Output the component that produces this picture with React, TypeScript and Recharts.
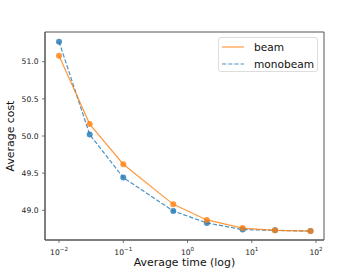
import React from 'react';
import { LineChart, Line, XAxis, YAxis, ReferenceArea } from 'recharts';

const times = [0.01, 0.03, 0.1, 0.6, 2, 7.2, 23, 82];
const beamCost = [51.08, 50.16, 49.62, 49.08, 48.87, 48.76, 48.73, 48.72];
const monobeamCost = [51.27, 50.02, 49.44, 48.99, 48.83, 48.74, 48.73, 48.72];
const xMajorTicks = [0.01, 0.1, 1, 10, 100];
const xTickExponents = ['\u22122', '\u22121', '0', '1', '2'];
const xMinorTicks = [
  0.007, 0.008, 0.009,
  0.02, 0.03, 0.04, 0.05, 0.06, 0.07, 0.08, 0.09,
  0.2, 0.3, 0.4, 0.5, 0.6, 0.7, 0.8, 0.9,
  2, 3, 4, 5, 6, 7, 8, 9,
  20, 30, 40, 50, 60, 70, 80, 90,
];
const yTicks = [49.0, 49.5, 50.0, 50.5, 51.0];
const xDomain = [0.00605, 133];
const yDomain = [48.6, 51.4];
const seriesNames = ['beam', 'monobeam'];

const data = times.map((t, i) => ({ t, beam: beamCost[i], monobeam: monobeamCost[i] }));

const ORANGE = '#ff7f0e';
const BLUE = '#1f77b4';
const FONT = 'DejaVu Sans';
const AXIS = '#555';

const XTick = (props: any) => {
  const { x, y, payload } = props;
  const idx = xMajorTicks.indexOf(payload.value);
  return (
    <text x={x} y={y + 9.5} textAnchor="middle" fontFamily={FONT} fontSize={7.6} fill="#222">
      10
      <tspan dy={-3.5} fontSize={5.6}>{xTickExponents[idx]}</tspan>
    </text>
  );
};

const LegendBox = () => (
  <div
    style={{
      position: 'absolute',
      left: 218,
      top: 37,
      width: 100,
      height: 35,
      border: '1px solid #ddd',
      borderRadius: 3,
      background: 'rgba(255,255,255,0.8)',
      fontFamily: FONT,
      fontSize: 10.6,
      color: '#111',
      boxSizing: 'border-box',
    }}
  >
    {[
      { name: seriesNames[0], color: ORANGE, dash: undefined as string | undefined, top: 8.5 },
      { name: seriesNames[1], color: BLUE, dash: '4.3 1.9', top: 25.5 },
    ].map((it) => (
      <div key={it.name} style={{ position: 'absolute', left: 2, top: it.top - 7, height: 14, display: 'flex', alignItems: 'center' }}>
        <svg width={24} height={14}>
          <line x1={1} x2={23} y1={7} y2={7} stroke={it.color} strokeWidth={1.2} strokeOpacity={0.8} strokeDasharray={it.dash} />
        </svg>
        <span style={{ marginLeft: 9, lineHeight: '14px' }}>{it.name}</span>
      </div>
    ))}
  </div>
);

export default function App() {
  return (
    <div style={{ position: 'absolute', left: 0, top: 0, width: 360, height: 270, background: '#fff' }}>
      <LineChart width={360} height={270} data={data} margin={{ top: 32, right: 36, bottom: 0, left: 0 }}>
        <XAxis
          xAxisId="minor"
          dataKey="t"
          type="number"
          scale="log"
          domain={xDomain}
          ticks={xMinorTicks}
          allowDataOverflow
          height={0}
          axisLine={false}
          tick={false}
          tickSize={1.6}
          tickLine={{ stroke: AXIS, strokeWidth: 0.6 }}
          interval={0}
        />
        <XAxis
          dataKey="t"
          type="number"
          scale="log"
          domain={xDomain}
          ticks={xMajorTicks}
          allowDataOverflow
          height={30}
          axisLine={{ stroke: AXIS, strokeWidth: 1 }}
          tickLine={{ stroke: AXIS, strokeWidth: 0.8 }}
          tickSize={3}
          tick={<XTick />}
          interval={0}
          label={{
            content: ({ viewBox }: any) => (
              <text x={viewBox.x + viewBox.width / 2} y={266} textAnchor="middle" fontFamily={FONT} fontSize={10.9} fill="#111">
                Average time (log)
              </text>
            ),
          }}
        />
        <YAxis
          type="number"
          domain={yDomain}
          ticks={yTicks}
          allowDataOverflow
          width={45}
          axisLine={{ stroke: AXIS, strokeWidth: 1 }}
          tickLine={{ stroke: AXIS, strokeWidth: 0.8 }}
          tickSize={3}
          tickMargin={3.5}
          tickFormatter={(v: number) => v.toFixed(1)}
          tick={{ fontFamily: FONT, fontSize: 7.6, fill: '#222' }}
          interval={0}
          label={{
            content: ({ viewBox }: any) => (
              <text
                x={14}
                y={viewBox.y + viewBox.height / 2}
                textAnchor="middle"
                fontFamily={FONT}
                fontSize={10.9}
                fill="#111"
                transform={`rotate(-90 14 ${viewBox.y + viewBox.height / 2})`}
              >
                Average cost
              </text>
            ),
          }}
        />
        <ReferenceArea
          x1={xDomain[0]}
          x2={xDomain[1]}
          y1={yDomain[0]}
          y2={yDomain[1]}
          fill="none"
          stroke={AXIS}
          strokeWidth={1}
          ifOverflow="visible"
        />
        <Line
          dataKey="monobeam"
          stroke={BLUE}
          strokeOpacity={0.8}
          strokeWidth={1.2}
          strokeDasharray="4.3 1.9"
          dot={{ r: 3, fill: BLUE, fillOpacity: 0.8, stroke: 'none' }}
          activeDot={false}
          isAnimationActive={false}
        />
        <Line
          dataKey="beam"
          stroke={ORANGE}
          strokeOpacity={0.8}
          strokeWidth={1.2}
          dot={{ r: 3, fill: ORANGE, fillOpacity: 0.8, stroke: 'none' }}
          activeDot={false}
          isAnimationActive={false}
        />
      </LineChart>
      <LegendBox />
    </div>
  );
}
